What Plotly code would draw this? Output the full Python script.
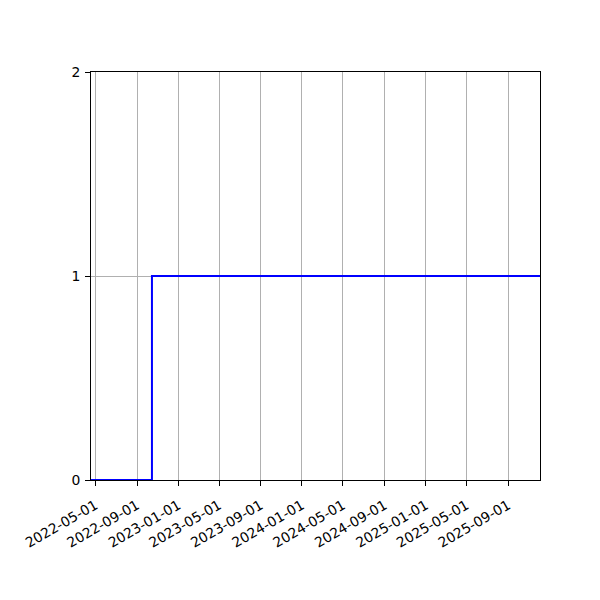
import plotly.graph_objects as go

dates = ["2022-04-18", "2022-10-15", "2025-12-04"]
values = [0, 1, 1]
x_ticks = ["2022-05-01", "2022-09-01", "2023-01-01", "2023-05-01", "2023-09-01",
           "2024-01-01", "2024-05-01", "2024-09-01", "2025-01-01", "2025-05-01",
           "2025-09-01"]
y_ticks = [0, 1, 2]

fig = go.Figure()
fig.add_trace(go.Scatter(x=dates, y=values, mode="lines", line_shape="hv",
                         line=dict(color="blue", width=2), showlegend=False))

fig.update_layout(
    width=600, height=600,
    margin=dict(l=83, r=68, t=64, b=128),
    paper_bgcolor="white", plot_bgcolor="white",
    font=dict(family="DejaVu Sans", size=13.9, color="black"),
    xaxis=dict(range=[dates[0], dates[-1]], tickvals=x_ticks, ticktext=x_ticks,
               tickangle=-30, showgrid=True, gridcolor="#b0b0b0", gridwidth=1,
               showline=True, linecolor="black", linewidth=1, mirror=True,
               ticks="outside", ticklen=5, tickcolor="black", zeroline=False,
               layer="below traces", ticklabelstandoff=6),
    yaxis=dict(range=[0, 2], tickvals=y_ticks, showgrid=True, gridcolor="#b0b0b0",
               gridwidth=1, showline=True, linecolor="black", linewidth=1, mirror=True,
               ticks="outside", ticklen=5, tickcolor="black", zeroline=False,
               layer="below traces", ticklabelstandoff=2),
)
fig.write_html("out.html")
